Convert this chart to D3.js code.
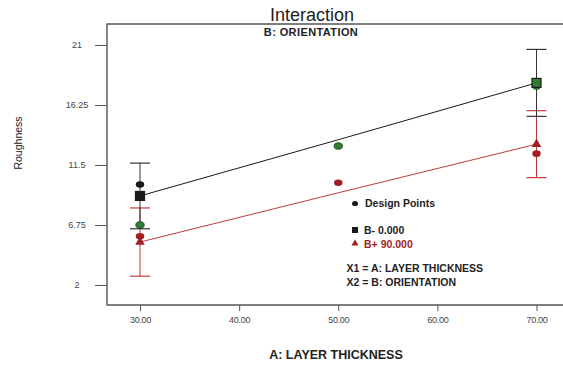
<!DOCTYPE html>
<html>
<head>
<meta charset="utf-8">
<script src="https://cdn.jsdelivr.net/npm/d3@7"></script>
<style>
  body { margin: 0; background: #fff; }
  svg { font-family: "Liberation Sans", Arial, sans-serif; }
</style>
</head>
<body>
<svg id="chart" width="563" height="369"></svg>
<script>
// levels of A: layer thickness
let xLevels = [30, 50, 70];
// predicted means for each orientation level
let bMinus = [9.05, 13.5, 18.0];
let bPlus = [5.4, 9.3, 13.15];
// LSD half widths at the end points
let lsdX = [30, 70];
let lsdMinus = [2.6, 2.65];
let lsdPlus = [2.7, 2.65];
// design points
let designX = [30, 30, 30, 50, 50, 70, 70];
let designY = [9.95, 6.75, 5.85, 13.0, 10.1, 17.75, 12.4];
let designGroup = ["minus", "both", "plus", "both", "plus", "both", "plus"];
// tick labels
let yTicks = [2, 6.75, 11.5, 16.25, 21];
let xTicks = [30, 40, 50, 60, 70];

let svg = d3.select("#chart");

let frame = { left: 107, top: 24, right: 563, bottom: 305 };

let x = d3.scaleLinear().domain([30, 70]).range([140, 536.5]);
let y = d3.scaleLinear().domain([2, 21]).range([285, 45]);

let black = "#1a1a1a";
let red = "#c23b3b";
let darkRed = "#a11f24";
let green = "#2f7d32";

// axes
let yAxis = svg.append("g")
    .attr("transform", "translate(" + frame.left + ",0)")
    .call(d3.axisLeft(y).tickValues(yTicks).tickSize(12).tickFormat(d => String(d)));
yAxis.select(".domain").remove();
yAxis.selectAll("line").attr("stroke", "#555");
yAxis.selectAll("text")
    .attr("x", -30)
    .attr("text-anchor", "middle")
    .attr("font-size", 9)
    .attr("fill", "#444");

let xAxis = svg.append("g")
    .attr("transform", "translate(0," + frame.bottom + ")")
    .call(d3.axisBottom(x).tickValues(xTicks).tickSize(6).tickFormat(d3.format(".2f")));
xAxis.select(".domain").remove();
xAxis.selectAll("line").attr("stroke", "#555");
xAxis.selectAll("text")
    .attr("y", 12)
    .attr("font-size", 9)
    .attr("letter-spacing", -0.3)
    .attr("fill", "#444");

// frame: top, left and bottom lines
svg.append("path")
    .attr("d", "M" + frame.right + "," + frame.top + "H" + frame.left + "V" + frame.bottom + "H" + frame.right)
    .attr("fill", "none")
    .attr("stroke", "#555")
    .attr("stroke-width", 1.4);

// titles
svg.append("text")
    .attr("x", 312).attr("y", 20.5)
    .attr("text-anchor", "middle")
    .attr("font-size", 18)
    .attr("fill", "#222")
    .text("Interaction");

svg.append("text")
    .attr("x", 311).attr("y", 36)
    .attr("text-anchor", "middle")
    .attr("font-size", 11)
    .attr("font-weight", "bold")
    .attr("letter-spacing", 0.4)
    .attr("fill", "#222")
    .text("B: ORIENTATION");

svg.append("text")
    .attr("x", 336).attr("y", 359)
    .attr("text-anchor", "middle")
    .attr("font-size", 12.5)
    .attr("font-weight", "bold")
    .attr("fill", "#222")
    .text("A: LAYER THICKNESS");

svg.append("text")
    .attr("transform", "translate(22,143) rotate(-90)")
    .attr("text-anchor", "middle")
    .attr("font-size", 10.5)
    .attr("fill", "#222")
    .text("Roughness");

// LSD bars
function drawLsd(values, half, color) {
    let g = svg.append("g");
    lsdX.forEach(function(xv, i) {
        let xi = xLevels.indexOf(xv);
        let c = values[xi];
        let top = y(c + half[i]), bot = y(c - half[i]);
        g.append("line")
            .attr("x1", x(xv)).attr("x2", x(xv))
            .attr("y1", top).attr("y2", bot)
            .attr("stroke", color).attr("stroke-width", 1);
        [top, bot].forEach(function(yy) {
            g.append("line")
                .attr("x1", x(xv) - 10).attr("x2", x(xv) + 10)
                .attr("y1", yy).attr("y2", yy)
                .attr("stroke", color).attr("stroke-width", 1.2);
        });
    });
}
drawLsd(bPlus, lsdPlus, red);
drawLsd(bMinus, lsdMinus, "#333");

// interaction lines
let line = d3.line().x((d, i) => x(xLevels[i])).y(d => y(d));
svg.append("path").datum(bMinus)
    .attr("d", line).attr("fill", "none")
    .attr("stroke", black).attr("stroke-width", 1);
svg.append("path").datum(bPlus)
    .attr("d", line).attr("fill", "none")
    .attr("stroke", red).attr("stroke-width", 1);

// design points
let groupColor = { minus: black, plus: darkRed, both: green };
svg.append("g").selectAll("ellipse")
    .data(designY)
    .enter()
    .append("ellipse")
    .attr("cx", (d, i) => x(designX[i]))
    .attr("cy", d => y(d))
    .attr("rx", 4.2).attr("ry", 3.3)
    .attr("fill", (d, i) => groupColor[designGroup[i]])
    .attr("stroke", (d, i) => designGroup[i] == "both" ? "#143d14" : "none")
    .attr("stroke-width", 0.8);

// predicted mean markers at the end points
let endIdx = [0, 2];
svg.append("g").selectAll("rect")
    .data(endIdx)
    .enter()
    .append("rect")
    .attr("x", i => x(xLevels[i]) - 4.5)
    .attr("y", i => y(bMinus[i]) - 4.5)
    .attr("width", 9).attr("height", 9)
    .attr("fill", i => i == 2 ? green : black)
    .attr("stroke", black).attr("stroke-width", 1.2);

let tri = d3.symbol().type(d3.symbolTriangle).size(40);
svg.append("g").selectAll("path")
    .data(endIdx)
    .enter()
    .append("path")
    .attr("d", tri)
    .attr("transform", i => "translate(" + x(xLevels[i]) + "," + y(bPlus[i]) + ")")
    .attr("fill", darkRed);

// legend
let legend = svg.append("g").attr("font-weight", "bold").attr("font-size", 10.5);
legend.append("ellipse")
    .attr("cx", 355).attr("cy", 203.5).attr("rx", 3).attr("ry", 2.6)
    .attr("fill", black);
legend.append("text").attr("x", 365).attr("y", 207).attr("fill", "#222")
    .text("Design Points");
legend.append("rect")
    .attr("x", 352).attr("y", 227).attr("width", 6).attr("height", 6)
    .attr("fill", black);
legend.append("text").attr("x", 364).attr("y", 234).attr("fill", "#222")
    .text("B- 0.000");
legend.append("path")
    .attr("d", d3.symbol().type(d3.symbolTriangle).size(22))
    .attr("transform", "translate(355,243.5)")
    .attr("fill", darkRed);
legend.append("text").attr("x", 364).attr("y", 247.5).attr("fill", darkRed)
    .text("B+ 90.000");
legend.append("text").attr("x", 346.5).attr("y", 272).attr("fill", "#222")
    .text("X1 = A: LAYER THICKNESS");
legend.append("text").attr("x", 346.5).attr("y", 286).attr("fill", "#222")
    .text("X2 = B: ORIENTATION");
</script>
</body>
</html>
